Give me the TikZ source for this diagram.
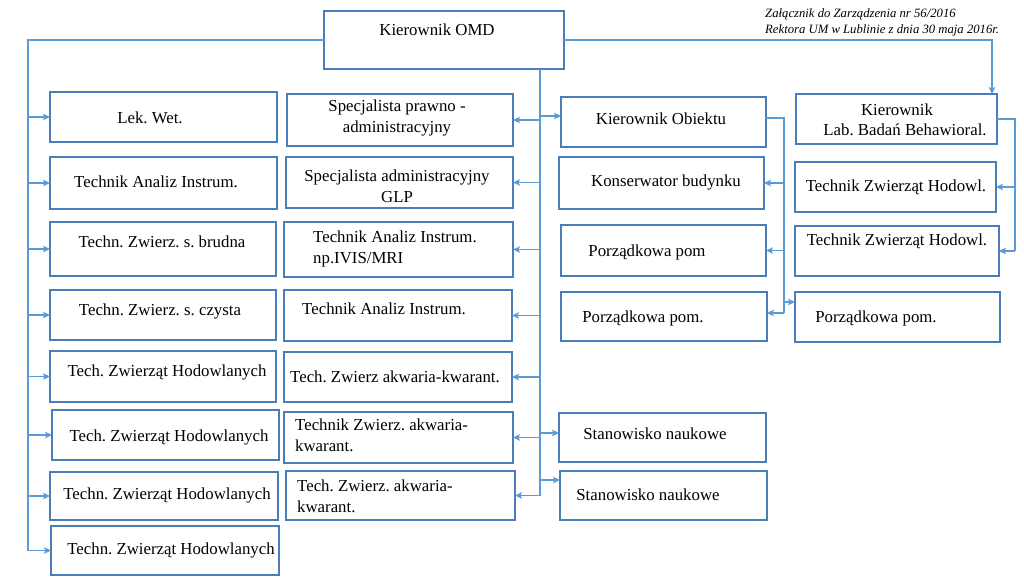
\documentclass[tikz,border=0pt]{standalone}
\usepackage{fontspec}
\setmainfont{Liberation Serif}
\frenchspacing
\usetikzlibrary{arrows.meta,calc}
\definecolor{boxc}{HTML}{4A7EBB}
\definecolor{linec}{HTML}{5B9BD5}
\tikzset{
  orgbox/.style={draw=boxc, line width=1.3pt, inner sep=0pt, outer sep=0pt, fill=white},
  lbl/.style={inner sep=0pt, font=\frenchspacing\fontsize{16.8}{20.5}\selectfont, align=center},
  lbll/.style={lbl, align=left, anchor=west},
  conn/.style={draw=linec, line width=1.2pt},
  arr/.style={conn, -{Stealth[length=7pt,width=6.5pt,inset=1.5pt]}},
}
\newcommand{\orgbx}[5]{%
  \node[orgbox, minimum width={(#4-#2)*1pt}, minimum height={(#5-#3)*1pt}] (#1) at ({(#2+#4)/2},{(#3+#5)/2}) {};}
\begin{document}
\begin{tikzpicture}[x=1pt,y=-1pt]
\useasboundingbox (0,0) rectangle (1024,576);
% boxes
\orgbx{omd}{324}{11}{564}{69}
\orgbx{l1}{50}{92}{277}{142}
\orgbx{l2}{50}{157}{277}{209}
\orgbx{l3}{50}{222}{276}{276}
\orgbx{l4}{50}{290}{276}{340}
\orgbx{l5}{50}{351}{276}{402}
\orgbx{l6}{52}{410}{279}{460}
\orgbx{l7}{50}{472}{278}{520}
\orgbx{l8}{51}{526}{279}{575}
\orgbx{c1}{287}{94}{513}{146}
\orgbx{c2}{286}{157}{513}{208}
\orgbx{c3}{284}{222}{513}{277}
\orgbx{c4}{284}{290}{512}{341}
\orgbx{c5}{284}{352}{512}{402}
\orgbx{c6}{284}{412}{513}{463}
\orgbx{c7}{286}{471}{515}{520}
\orgbx{ko}{561}{97}{766}{147}
\orgbx{kb}{559}{157}{764}{209}
\orgbx{p1}{561}{225}{766}{276}
\orgbx{p2}{561}{292}{767}{341}
\orgbx{s1}{559}{413}{766}{462}
\orgbx{s2}{560}{471}{767}{520}
\orgbx{kl}{796}{94}{997}{144}
\orgbx{r1}{795}{162}{996}{212}
\orgbx{r2}{795}{226}{999}{276}
\orgbx{rp}{795}{292}{1000}{342}
% texts
\node[lbl] (omd-t) at (437,30) {Kierownik OMD};
\node[lbl] (l1-t) at (150,118) {Lek. Wet.};
\node[lbl] (l2-t) at (156,182) {Technik Analiz Instrum.};
\node[lbl] (l3-t) at (162,242) {Techn. Zwierz. s. brudna};
\node[lbl] (l4-t) at (160,311) {Techn. Zwierz. s. czysta};
\node[lbl] (l5-t) at (167,372) {Tech. Zwierząt Hodowlanych};
\node[lbl] (l6-t) at (169,437) {Tech. Zwierząt Hodowlanych};
\node[lbl] (l7-t) at (167,495) {Techn. Zwierząt Hodowlanych};
\node[lbl] (l8-t) at (171,550) {Techn. Zwierząt Hodowlanych};
\node[lbl] (c1-t) at (397,118) {Specjalista prawno -\\administracyjny};
\node[lbl] (c2-t) at (397,186) {Specjalista administracyjny\\GLP};
\node[lbll] (c3-t) at (313,249) {Technik Analiz Instrum.\\np.IVIS/MRI};
\node[lbl] (c4-t) at (384,309) {Technik Analiz Instrum.};
\node[lbl] (c5-t) at (395,377) {Tech. Zwierz akwaria-kwarant.};
\node[lbll] (c6-t) at (295,435.5) {Technik Zwierz. akwaria-\\kwarant.};
\node[lbll] (c7-t) at (297,496.5) {Tech. Zwierz. akwaria-\\kwarant.};
\node[lbl] (ko-t) at (661,119) {Kierownik Obiektu};
\node[lbl] (kb-t) at (666,182) {Konserwator budynku};
\node[lbl] (p1-t) at (647,252) {Porządkowa pom};
\node[lbl] (p2-t) at (643,318) {Porządkowa pom.};
\node[lbl] (s1-t) at (655,434) {Stanowisko naukowe};
\node[lbl] (s2-t) at (648,495) {Stanowisko naukowe};
\node[lbl] (kl-t) at (897,120) {Kierownik\\\hspace*{16pt}Lab. Badań Behawioral.};
\node[lbl] (r1-t) at (896,187) {Technik Zwierząt Hodowl.};
\node[lbl] (r2-t) at (897,241) {Technik Zwierząt Hodowl.};
\node[lbl] (rp-t) at (876,318) {Porządkowa pom.};
\node[inner sep=0pt, anchor=west, align=left, font=\frenchspacing\fontsize{12.7}{16}\selectfont\itshape] (note) at (765,22)
  {Załącznik do Zarządzenia nr 56/2016\\Rektora UM w Lublinie z dnia 30 maja 2016r.};
% trunk coordinates
\coordinate (xL) at (28,0);
\coordinate (xT) at (540,0);
\coordinate (xO) at (784,0);
\coordinate (xK) at (992,0);
\coordinate (xR) at (1015,0);
% left branch
\draw[conn] (omd.west) -| (xL |- l8.west);
\foreach \n in {l1,l2,l3,l4,l5,l6,l7,l8} \draw[arr] (xL |- \n.west) -- (\n.west);
% right branch to lab head
\draw[arr] (omd.east) -| (xK |- kl.north);
% central trunk
\draw[conn] (xT |- omd.south) -- (xT |- c7.east);
\foreach \n in {c1,c2,c3,c4,c5,c6,c7} \draw[arr] (xT |- \n.east) -- (\n.east);
\coordinate (ko-in) at ([yshift=6pt]ko.west);
\coordinate (s1-in) at ([yshift=4.5pt]s1.west);
\coordinate (s2-in) at ([yshift=15.5pt]s2.west);
\draw[arr] (xT |- ko-in) -- (ko-in);
\draw[arr] (xT |- s1-in) -- (s1-in);
\draw[arr] (xT |- s2-in) -- (s2-in);
% Kierownik Obiektu branch
\coordinate (ko-out) at ([yshift=4pt]ko.east);
\coordinate (p2-in) at ([yshift=3.5pt]p2.east);
\coordinate (rp-in) at ([yshift=15pt]rp.west);
\draw[conn] (ko-out) -| (xO |- p2-in);
\draw[arr] (xO |- kb.east) -- (kb.east);
\draw[arr] (xO |- p1.east) -- (p1.east);
\draw[arr] (xO |- p2-in) -- (p2-in);
\draw[arr] (xO |- rp-in) -- (rp-in);
% Lab branch
\draw[conn] (kl.east) -| (xR |- r2.east);
\draw[arr] (xR |- r1.east) -- (r1.east);
\draw[arr] (xR |- r2.east) -- (r2.east);
\end{tikzpicture}
\end{document}
